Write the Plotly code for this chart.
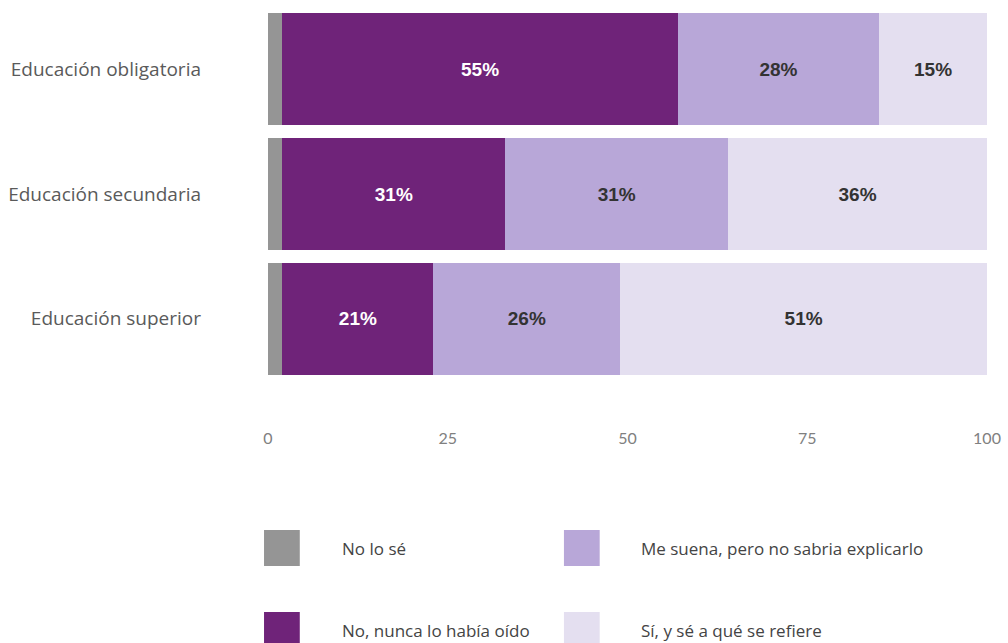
import plotly.graph_objects as go

# Survey categories (top to bottom) and response shares in percent
categories = ["Educación obligatoria", "Educación secundaria", "Educación superior"]
series_names = [
    "No lo sé",
    "No, nunca lo había oído",
    "Me suena, pero no sabria explicarlo",
    "Sí, y sé a qué se refiere",
]
no_lo_se = [2, 2, 2]
nunca_oido = [55, 31, 21]
me_suena = [28, 31, 26]
si_se = [15, 36, 51]
tick_values = [0, 25, 50, 75, 100]
tick_labels = ["0", "25", "50", "75", "100"]

colors = ["#959595", "#6f2379", "#b8a7d8", "#e4dff0"]
text_colors = ["#ffffff", "#ffffff", "#333333", "#333333"]
show_labels = [False, True, True, True]
values = [no_lo_se, nunca_oido, me_suena, si_se]

W, H = 1008, 643
M_L, M_R, M_T, M_B = 268, 16, 7, 262

fig = go.Figure()
for name, vals, col, tcol, lab in zip(series_names, values, colors, text_colors, show_labels):
    fig.add_trace(go.Bar(
        y=categories,
        x=vals,
        name=name,
        orientation="h",
        marker=dict(color=col, line=dict(width=0)),
        text=[f"{v}%" for v in vals] if lab else None,
        textposition="inside",
        insidetextanchor="middle",
        textangle=0,
        textfont=dict(family="Liberation Sans, Arial, sans-serif", size=19, color=tcol),
        texttemplate="<b>%{text}</b>" if lab else None,
        showlegend=False,
        hoverinfo="skip",
    ))

# Legend drawn as swatches + labels in pixel space converted to paper coords
plot_w = W - M_L - M_R
plot_h = H - M_T - M_B


def px_x(x):
    return (x - M_L) / plot_w


def px_y(y):
    return (H - M_B - y) / plot_h


legend_items = [
    (264, 530, 0), (566, 530, 2),
    (264, 612, 1), (566, 612, 3),
]
shapes = []
annotations = []
for x0, y0, idx in legend_items:
    shapes.append(dict(
        type="rect", xref="paper", yref="paper",
        x0=px_x(x0), x1=px_x(x0 + 36), y0=px_y(y0 + 36), y1=px_y(y0),
        fillcolor=colors[idx], line=dict(width=0),
    ))
    annotations.append(dict(
        xref="paper", yref="paper",
        x=px_x(x0 + 76), y=px_y(y0 + 18),
        text=series_names[idx], showarrow=False,
        xanchor="left", yanchor="middle",
        font=dict(family="Open Sans, sans-serif", size=17, color="#444444"),
    ))

fig.update_layout(
    width=W, height=H,
    barmode="stack",
    bargap=0.1,
    paper_bgcolor="white",
    plot_bgcolor="white",
    margin=dict(l=M_L, r=M_R, t=M_T, b=M_B, pad=0),
    xaxis=dict(
        range=[0, 100],
        tickvals=tick_values,
        ticktext=tick_labels,
        showgrid=False, zeroline=False, showline=False,
        tickfont=dict(family="Lato, sans-serif", size=16, color="#808080"),
        ticklabelstandoff=46,
        fixedrange=True,
    ),
    yaxis=dict(
        categoryorder="array",
        categoryarray=categories[::-1],
        showgrid=False, zeroline=False, showline=False,
        tickfont=dict(family="Open Sans, sans-serif", size=19, color="#5a5a5a"),
        ticklabelstandoff=66,
        fixedrange=True,
    ),
    shapes=shapes,
    annotations=annotations,
    uniformtext=dict(mode=False),
)

fig.write_html("out.html")
